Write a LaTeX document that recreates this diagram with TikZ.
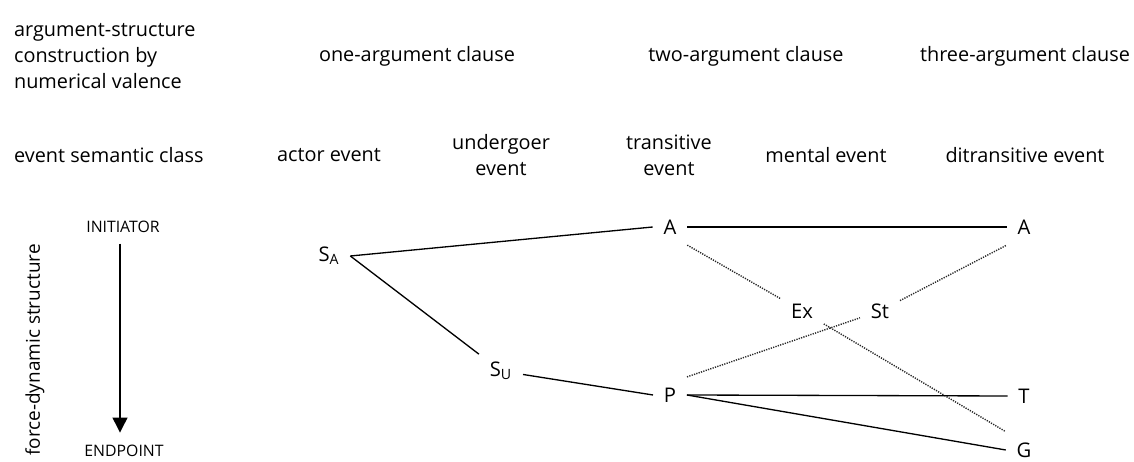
\documentclass[tikz,border=0pt]{standalone}
\usepackage{fontspec}
\setmainfont{Open Sans}
\usetikzlibrary{arrows.meta, positioning}

\begin{document}
\begin{tikzpicture}[
    x=0.02cm, y=-0.02cm,
    label/.style={font=\fontsize{11.3}{15}\selectfont, align=center, inner sep=1pt},
    rowhead/.style={label, align=left, anchor=west},
    role/.style={font=\fontsize{11.5}{12}\selectfont, inner sep=6pt},
    pole/.style={font=\fontsize{9}{10}\selectfont, inner sep=6pt},
    link/.style={line width=0.75pt},
    strong/.style={line width=1.5pt},
    weak/.style={line width=0.8pt, black!85, dash pattern=on 0.7pt off 0.7pt},
    arrow/.style={line width=0.75pt,-{Triangle[width=8.5pt,length=8.5pt]}}
]
\useasboundingbox (0,0) rectangle (1134,462);

% Valence row
\node[rowhead] (valence) at (12,56) {argument-structure\\construction by\\numerical valence};
\node[label] (one) at (417,56) {one-argument clause};
\node[label] (two) at (746,56) {two-argument clause};
\node[label] (three) at (1025,56) {three-argument clause};

% Event class row
\node[rowhead] (class) at (12,155) {event semantic class};
\node[label] (actor) at (329,155) {actor event};
\node[label] (under) at (501,155) {undergoer\\event};
\node[label] (trans) at (669,155) {transitive\\event};
\node[label] (mental) at (826,155) {mental event};
\node[label] (ditrans) at (1025,155) {ditransitive event};

% Force-dynamic axis
\node[pole] (init) at (123,227) {INITIATOR};
\node[pole] (endp) at (124,451) {ENDPOINT};
\draw[arrow] (init.south -| 120,0) -- ([yshift=1pt]endp.north -| 120,0);
\node[label, font=\fontsize{10.8}{12}\selectfont, rotate=90] (force) at (35,350) {force-dynamic structure};

% Participant roles
\node[role] (sa) at (329,256) {S\textsubscript{A}};
\node[role] (su) at (501,371) {S\textsubscript{U}};
\node[role] (ta) at (670,227) {A};
\node[role] (tp) at (670,395) {P};
\node[role] (ex) at (802,311) {Ex};
\node[role] (st) at (880,311) {St};
\node[role] (da) at (1024,227) {A};
\node[role] (dt) at (1024,396) {T};
\node[role] (dg) at (1024,450) {G};

% Connections
\draw[link] (sa.east) -- (ta.west);
\draw[link] (sa.east) -- (su);
\draw[link] (su) -- (tp.west);
\draw[strong] (ta) -- (da);
\draw[weak] (ta.south east) -- (ex);
\draw[weak] (ex) -- (dg.north west);
\draw[weak] (tp.north east) -- (st);
\draw[weak] (st) -- (da.south west);
\draw[link] (tp.east) -- (dt.west);
\draw[link] (tp.east) -- (dg.west);

\end{tikzpicture}
\end{document}
